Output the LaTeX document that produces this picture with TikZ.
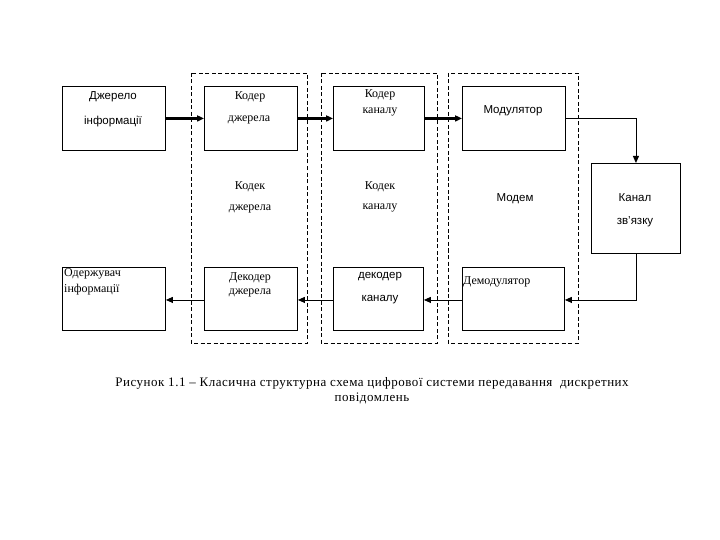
\documentclass[tikz,border=0pt]{standalone}
\usepackage{fontspec}
\setmainfont{Liberation Serif}
\setsansfont{Liberation Sans}
\usetikzlibrary{arrows.meta}
\begin{document}
\begin{tikzpicture}[x=1pt,y=-1pt,
  blk/.style={draw,line width=0.9pt,minimum width=#1,minimum height=64pt,inner sep=0pt,anchor=north west},
  blk/.default=100pt,
  grp/.style={draw,line width=0.8pt,dash pattern=on 4pt off 2.5pt},
  thk/.style={line width=2.4pt,-{Triangle[length=7pt,width=6pt]}},
  thn/.style={line width=0.9pt,-{Triangle[length=7pt,width=6pt]}},
  sf/.style={font=\sffamily\fontsize{11.5}{13}\selectfont,inner sep=0pt},
  rm/.style={font=\fontsize{12}{14}\selectfont,inner sep=0pt}]
\useasboundingbox (0,0) rectangle (720,540);
% groups
\draw[grp] (191,73) rectangle (307,343);
\draw[grp] (321,73) rectangle (437,343);
\draw[grp] (448,73) rectangle (578,343);
% boxes
\node[blk=103pt] (src) at (62,86) {};
\node[blk=93pt] (cs) at (204,86) {};
\node[blk=91pt] (cc) at (333,86) {};
\node[blk=103pt] (mod) at (462,86) {};
\node[draw,line width=0.9pt,minimum width=89pt,minimum height=90pt,inner sep=0pt,anchor=north west] (ch) at (591,163) {};
\node[blk=103pt,minimum height=63pt] (dst) at (62,267) {};
\node[blk=93pt,minimum height=63pt] (ds) at (204,267) {};
\node[blk=90pt,minimum height=63pt] (dc) at (333,267) {};
\node[blk=102pt,minimum height=63pt] (dem) at (462,267) {};
% texts
\node[sf] (t1) at (113,97) {Джерело};
\node[sf] (t2) at (113,122) {інформації};
\node[rm] (t3) at (250,97) {Кодер};
\node[rm] (t4) at (249,120) {джерела};
\node[rm] (t5) at (380,95) {Кодер};
\node[rm] (t6) at (380,112) {каналу};
\node[sf] (t7) at (513,111) {Модулятор};
\node[sf] (t8) at (635,198) {Канал};
\node[sf] (t9) at (635,222) {зв’язку};
\node[rm] (t10) at (250,187) {Кодек};
\node[rm] (t11) at (250,209) {джерела};
\node[rm] (t12) at (380,187) {Кодек};
\node[rm] (t13) at (380,208) {каналу};
\node[sf] (t14) at (515,199) {Модем};
\node[rm,anchor=west] (t15) at (64,274) {Одержувач};
\node[rm,anchor=west] (t16) at (64,290) {інформації};
\node[rm] (t17) at (250,278) {Декодер};
\node[rm] (t18) at (250,293) {джерела};
\node[sf] (t19) at (380,277) {декодер};
\node[sf] (t20) at (380,300) {каналу};
\node[rm,anchor=west] (t21) at (463,282) {Демодулятор};
\node[font=\fontsize{13}{15}\selectfont\addfontfeature{LetterSpace=4},align=center,inner sep=0pt] (cap) at (372,391)
  {Рисунок 1.1 – Класична структурна схема цифрової системи передавання\ \ дискретних\\повідомлень};
% connectors
\draw[thk] (src.east) -- (cs.west);
\draw[thk] (cs.east) -- (cc.west);
\draw[thk] (cc.east) -- (mod.west);
\draw[thn] (mod.east) -| (ch.north);
\draw[thn] (ch.south) |- ([yshift=-1pt]dem.east);
\draw[thn] ([yshift=-1pt]dem.west) -- ([yshift=-1pt]dc.east);
\draw[thn] ([yshift=-1pt]dc.west) -- ([yshift=-1pt]ds.east);
\draw[thn] ([yshift=-1pt]ds.west) -- ([yshift=-1pt]dst.east);
\end{tikzpicture}
\end{document}
